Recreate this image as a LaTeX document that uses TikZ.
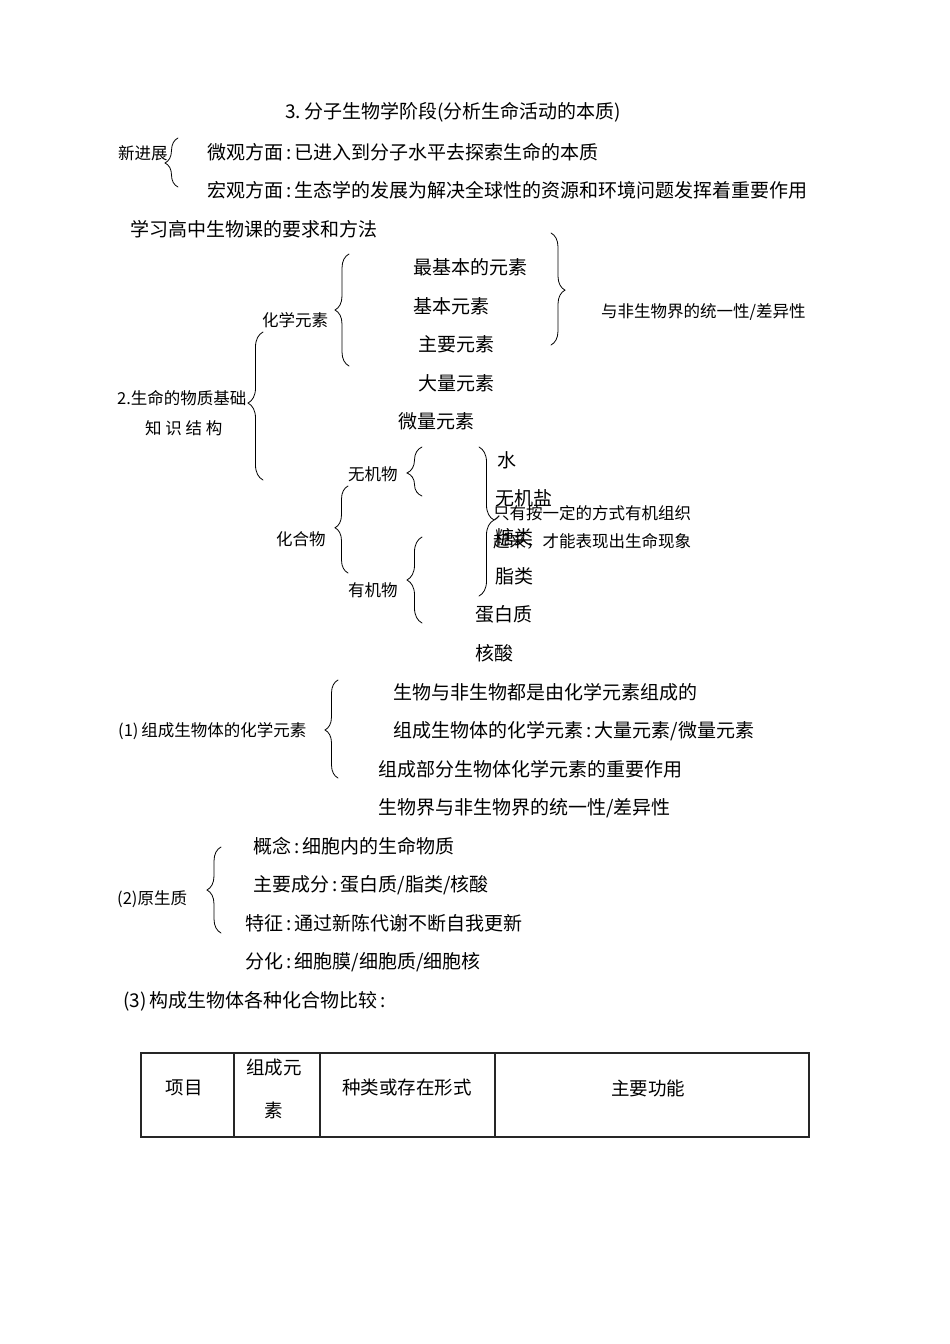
\documentclass[tikz,border=0pt]{standalone}
\usepackage{fontspec}
\setmainfont{Noto Sans CJK SC}
\usepackage{tikz}
\usetikzlibrary{decorations.pathreplacing}

\tikzset{
  txt/.style={anchor=west,inner sep=0pt,font=\fontsize{19}{21}\selectfont},
  sml/.style={anchor=west,inner sep=0pt,font=\fontsize{16.5}{18}\selectfont},
  cell/.style={inner sep=0pt,font=\fontsize{18.5}{20}\selectfont},
  brc/.style 2 args={decorate,decoration={brace,amplitude=#1,aspect=#2},line width=0.8pt},
  tbl/.style={line width=1.3pt,black!85}
}

\begin{document}
\begin{tikzpicture}[x=1pt,y=-1pt,line cap=round]
\useasboundingbox (0,0) rectangle (950,1344);
\node[txt] (title) at (285,112) {3.\,分子生物学阶段(分析生命活动的本质)};
\node[sml] (progress) at (118,153) {新进展};
\draw[brc={13pt}{0.49}] (178,187) -- (178,138);
\node[txt] (micro) at (207,152) {微观方面\,:\,已进入到分子水平去探索生命的本质};
\node[txt] (macro) at (207,190) {宏观方面\,:\,生态学的发展为解决全球性的资源和环境问题发挥着重要作用};
\node[txt] (study) at (130,229) {学习高中生物课的要求和方法};
% chemical elements
\node[sml] (elem) at (262,320) {化学元素};
\draw[brc={14pt}{0.5}] (349,366) -- (349,254);
\node[txt] (e1) at (413,267) {最基本的元素};
\node[txt] (e2) at (413,306) {基本元素};
\node[txt] (e3) at (418,344) {主要元素};
\node[txt] (e4) at (418,383) {大量元素};
\node[txt] (e5) at (398,421) {微量元素};
\draw[brc={14pt}{0.51}] (551,233) -- (551,345);
\node[sml] (unity) at (601,312) {与非生物界的统一性/差异性};
% material basis
\node[sml] (basis) at (117,398) {2.生命的物质基础};
\node[sml] (struct) at (145,428) {知 识 结 构};
\draw[brc={15pt}{0.52}] (263,480) -- (263,332);
\node[sml] (inorg) at (348,474) {无机物};
\draw[brc={15pt}{0.47}] (422,496) -- (422,447);
\node[sml] (comp) at (276,539) {化合物};
\draw[brc={13pt}{0.52}] (348,573) -- (348,486);
\node[sml] (org) at (348,590) {有机物};
\draw[brc={15pt}{0.5}] (422,623) -- (422,537);
\draw[brc={15pt}{0.49}] (479,447) -- (479,596);
\node[txt] (water) at (497,460) {水};
\node[txt] (salt) at (495,498) {无机盐};
\node[sml] (note1) at (493,513) {只有按一定的方式有机组织};
\node[txt] (sugar) at (495,537) {糖类};
\node[sml] (note2) at (493,541) {起来，才能表现出生命现象};
\node[txt] (lipid) at (495,576) {脂类};
\node[txt] (protein) at (475,614) {蛋白质};
\node[txt] (nucleic) at (475,653) {核酸};
% (1)
\node[sml] (part1) at (118,731) {(1)\,组成生物体的化学元素};
\draw[brc={13pt}{0.49}] (338,778) -- (338,680);
\node[txt] (p1a) at (393,692) {生物与非生物都是由化学元素组成的};
\node[txt] (p1b) at (393,731) {组成生物体的化学元素\,:\,大量元素/微量元素};
\node[txt] (p1c) at (378,769) {组成部分生物体化学元素的重要作用};
\node[txt] (p1d) at (378,808) {生物界与非生物界的统一性/差异性};
% (2)
\node[sml] (part2) at (117,899) {(2)原生质};
\draw[brc={14pt}{0.5}] (221,933) -- (221,847);
\node[txt] (p2a) at (253,846) {概念\,:\,细胞内的生命物质};
\node[txt] (p2b) at (253,885) {主要成分\,:\,蛋白质/脂类/核酸};
\node[txt] (p2c) at (245,923) {特征\,:\,通过新陈代谢不断自我更新};
\node[txt] (p2d) at (245,962) {分化\,:\,细胞膜/细胞质/细胞核};
% (3)
\node[txt] (part3) at (123,1001) {(3)\,构成生物体各种化合物比较\,:};
% table
\draw[tbl] (141,1053) rectangle (809,1137);
\foreach \x in {234,320,495} \draw[tbl] (\x,1053) -- (\x,1137);
\node[cell] (h1) at (184,1088) {项目};
\node[cell] (h2a) at (274,1068) {组成元};
\node[cell] (h2b) at (274,1110) {素};
\node[cell] (h3) at (407,1088) {种类或存在形式};
\node[cell] (h4) at (648,1088) {主要功能};
\end{tikzpicture}
\end{document}
